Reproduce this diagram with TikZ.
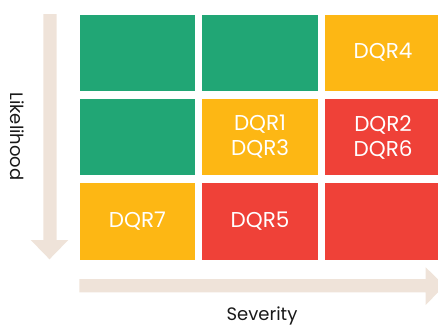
\documentclass[tikz,border=0pt]{standalone}
\usepackage{fontspec}
\setmainfont{Poppins}
\begin{document}
\begin{tikzpicture}[x=1pt,y=-1pt,
  cell/.style={minimum width=115.7pt,minimum height=76.4pt,inner sep=0pt,
    text=white,font=\fontsize{21.5}{25}\selectfont,align=center,anchor=north west},
  low/.style={cell,fill=riskgreen},
  mid/.style={cell,fill=riskyellow},
  high/.style={cell,fill=riskred},
  axislabel/.style={font=\fontsize{18}{21}\selectfont,text=black!90}]
\definecolor{riskgreen}{HTML}{21A675}
\definecolor{riskyellow}{HTML}{FDB714}
\definecolor{riskred}{HTML}{EF4138}
\definecolor{axisfill}{HTML}{EFE3D9}
\useasboundingbox (0,0) rectangle (438,327);
% risk matrix cells, rows top to bottom
\node[low]  (c11) at (79.3,14.3) {};
\node[low]  (c12) at (202,14.3) {};
\node[mid]  (c13) at (325,14.3) {DQR4};
\node[low]  (c21) at (79.3,98.7) {};
\node[mid]  (c22) at (202,98.7) {DQR1\\DQR3};
\node[high] (c23) at (325,98.7) {DQR2\\DQR6};
\node[mid]  (c31) at (79.3,182.9) {DQR7};
\node[high] (c32) at (202,182.9) {DQR5};
\node[high] (c33) at (325,182.9) {};
% likelihood axis arrow
\fill[axisfill] (43.3,14) -- (56.7,14) -- (56.7,240) -- (68.3,240) -- (49.5,259.3)
  -- (30.7,240) -- (43.3,240) -- cycle;
% severity axis arrow
\fill[axisfill] (79.3,279) -- (425.7,279) -- (425.7,267.3) -- (444.5,285.6)
  -- (425.7,305) -- (425.7,292.3) -- (79.3,292.3) -- cycle;
\node[axislabel,rotate=-90] (likelihood) at (17,136.5) {Likelihood};
\node[axislabel] (severity) at (262,316) {Severity};
\end{tikzpicture}
\end{document}
